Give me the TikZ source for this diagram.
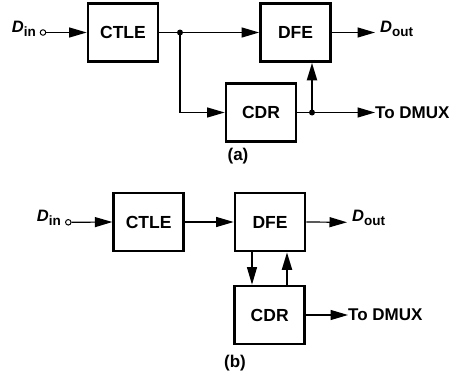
\documentclass[tikz,border=0pt]{standalone}
\usepackage{fontspec}
\setmainfont{Liberation Sans}
\usetikzlibrary{arrows.meta}
\tikzset{
  blk/.style={draw, line width=2.7pt, minimum width=70pt, minimum height=58pt, inner sep=0pt,
    font=\fontsize{17.5}{17.5}\selectfont\bfseries},
  conn/.style={line width=1.2pt},
  arr/.style={conn, -{Triangle[length=17.5pt,width=10pt]}},
  thickarr/.style={line width=2.1pt, -{Triangle[length=17.5pt,width=10pt]}},
  term/.style={circle, draw, line width=1pt, fill=white, inner sep=0pt, minimum size=5.5pt},
  jdot/.style={circle, fill=black, inner sep=0pt, minimum size=6pt},
  lbl/.style={inner sep=0pt, font=\fontsize{17}{17}\selectfont\bfseries},
  sig/.style={inner sep=0pt},
}
\newcommand{\sigD}[1]{{\fontsize{16.5}{16.5}\selectfont\bfseries\itshape D}\raisebox{-4pt}{\fontsize{13.5}{13.5}\selectfont\bfseries #1}}
\begin{document}
\begin{tikzpicture}[x=1pt,y=-1pt]
\useasboundingbox (0,0) rectangle (451,380);
% ---------- (a) ----------
\node[blk] (ctleA) at (123,32.5) {CTLE};
\node[blk] (dfeA) at (295.5,32.5) {DFE};
\node[blk] (cdrA) at (261,112.5) {CDR};
\node[term] (inA) at (43,32.5) {};
\node[sig, anchor=base east] (dinA) at (36,32.3) {\sigD{in}};
\coordinate (jA) at (180,32.5);
\coordinate (bendA) at (180,112.5);
\coordinate (kA) at (312,112.5);
\coordinate (outA) at (375,32.5);
\coordinate (dmA) at (375,112.5);
\draw[arr] (inA) -- (ctleA.west);
\draw[conn] (ctleA.east) -- (jA);
\draw[arr] (jA) -- (dfeA.west);
\draw[arr] (jA) -- (bendA) -- (cdrA.west);
\draw[arr] (dfeA.east) -- (outA);
\draw[arr] (cdrA.east) -- (dmA);
\draw[thickarr] (kA) -- (kA |- dfeA.south);
\node[jdot] (jdotA) at (jA) {};
\node[jdot] (kdotA) at (kA) {};
\node[sig, anchor=base west] (doutA) at (380,32.3) {\sigD{out}};
\node[lbl, anchor=west] (dmuxA) at (dmA) {To DMUX};
\node[lbl] (capA) at (238,156) {(a)};
% ---------- (b) ----------
\node[blk] (ctleB) at (148.7,222) {CTLE};
\node[blk] (dfeB) at (270,222) {DFE};
\node[blk] (cdrB) at (269.7,315) {CDR};
\node[term] (inB) at (68.3,222.3) {};
\node[sig, anchor=base east] (dinB) at (61,222) {\sigD{in}};
\coordinate (outB) at (347,222.3);
\coordinate (dmB) at (348,315);
\draw[arr] (inB) -- (ctleB.west);
\draw[arr] (ctleB.east) -- (dfeB.west);
\draw[arr] (dfeB.east) -- (outB);
\draw[arr] (cdrB.east) -- (dmB);
\draw[arr] (252,0 |- dfeB.south) -- (252,0 |- cdrB.north);
\draw[thickarr] (287,0 |- cdrB.north) -- (287,0 |- dfeB.south);
\node[sig, anchor=base west] (doutB) at (352,222) {\sigD{out}};
\node[lbl, anchor=west] (dmuxB) at (dmB) {To DMUX};
\node[lbl] (capB) at (235,363) {(b)};
\end{tikzpicture}
\end{document}
